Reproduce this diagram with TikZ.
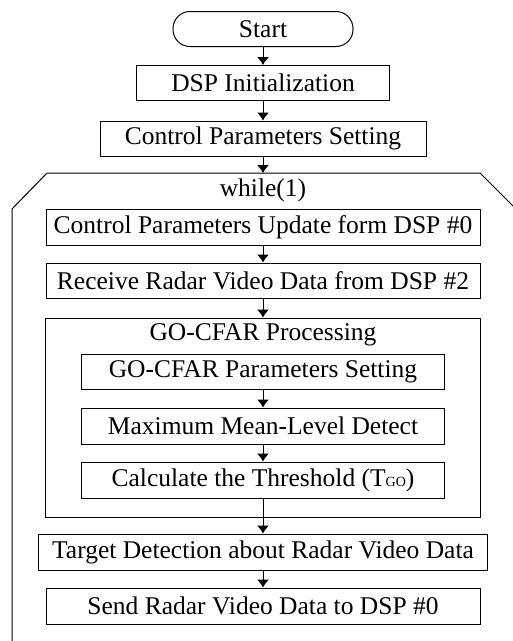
\documentclass[tikz,border=0pt]{standalone}
\usepackage{fontspec}
\setmainfont{Liberation Serif}
\usetikzlibrary{arrows.meta}
\begin{document}
\begin{tikzpicture}
  [x=1pt,y=-1pt,line width=1pt,
   every node/.style={font=\fontsize{25.5}{28}\selectfont},
   box/.style={draw,rectangle,inner sep=0pt,minimum height=35pt},
   arr/.style={-{Latex[length=8pt,width=12pt]}}]
  \useasboundingbox (0,0) rectangle (513,641);
  \node (start) [box,rounded corners=17pt,minimum width=180pt] at (263,29) {Start};
  \node (init) [box,minimum width=253pt] at (263,83) {DSP Initialization};
  \node (ctrl) [box,minimum width=326pt] at (263,138.5) {Control Parameters Setting};
  \coordinate (loop) at (263,173);
  \node (while) at (263,190) {while(1)};
  \node (upd) [box,minimum width=434pt,minimum height=36pt] at (263,227) {Control Parameters Update form DSP \#0};
  \node (recv) [box,minimum width=434pt] at (263,280.5) {Receive Radar Video Data from DSP \#2};
  \node (cfar) [box,minimum width=435pt,minimum height=199pt] at (263,417.5) {};
  \node (cfart) at (263,335) {GO-CFAR Processing};
  \node (par) [box,minimum width=363pt] at (263,371.5) {GO-CFAR Parameters Setting};
  \node (mml) [box,minimum width=363pt,minimum height=36pt] at (263,426) {Maximum Mean-Level Detect};
  \node (thr) [box,minimum width=363pt,minimum height=36pt] at (263,480) {Calculate the Threshold (T{\fontsize{14}{14}\selectfont GO})};
  \node (tgt) [box,minimum width=449pt,minimum height=36pt] at (263,552) {Target Detection about Radar Video Data};
  \node (send) [box,minimum width=434pt,minimum height=36pt] at (263,606) {Send Radar Video Data to DSP \#0};

  % while(1) frame, open at the bottom
  \begin{scope}
    \clip (0,0) rectangle (513,641);
    \draw (12,645) -- (12,209) -- (47,173) -- (480,173) -- (516,209) -- (516,645);
  \end{scope}

  \draw [arr] (start) -- (init);
  \draw [arr] (init) -- (ctrl);
  \draw [arr] (ctrl) -- (loop);
  \draw [arr] (upd) -- (recv);
  \draw [arr] (recv) -- (cfar);
  \draw [arr] (par) -- (mml);
  \draw [arr] (mml) -- (thr);
  \draw [arr] (thr) -- (tgt);
  \draw [arr] (tgt) -- (send);
\end{tikzpicture}
\end{document}
